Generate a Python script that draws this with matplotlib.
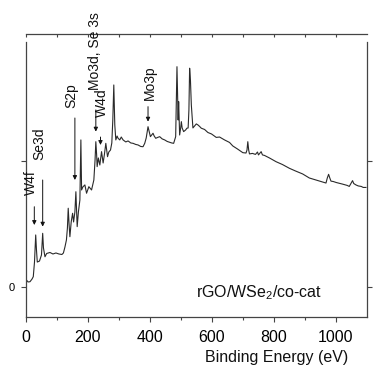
import numpy as np
import matplotlib
matplotlib.use('Agg')
import matplotlib.pyplot as plt

plt.rcParams['font.family'] = ['Liberation Sans', 'DejaVu Sans']
plt.rcParams['mathtext.default'] = 'regular'

# ==================================================
# Survey spectrum
# ==================================================
energy = [0, 7.4, 13.8, 20.3, 24.4, 28.3, 32.2, 34.7, 37.3, 44.4, 50.8, 54.7, 57.2, 62.1,
          67.5, 78.1, 87.8, 97.4, 107.1, 116.7, 121.5, 126.4, 131.2, 134.4, 137.0, 139.9,
          142.4, 146.6, 151.1, 154.3, 158.5, 161.7, 165.9, 169.8, 174.6, 177.8, 180.1,
          184.2, 190.7, 196.1, 203.5, 212.2, 216.4, 219.6, 223.5, 226.0, 228.6, 230.2,
          234.1, 238.9, 244.4, 249.5, 253.4, 258.2, 263.7, 267.8, 273.3, 277.5, 280.7,
          283.9, 287.1, 290.4, 294.5, 297.7, 303.2, 308.0, 313.8, 322.5, 329.9, 338.6,
          346.0, 354.7, 362.1, 370.7, 378.1, 383.6, 388.4, 394.2, 398.1, 401.9, 406.1,
          410.3, 414.1, 419.0, 425.4, 431.8, 439.9, 447.9, 455.9, 464.0, 470.4, 476.8,
          480.1, 483.3, 485.5, 487.5, 489.7, 491.3, 492.9, 494.9, 496.1, 499.4, 501.6,
          504.2, 509.0, 515.4, 519.6, 523.5, 526.0, 528.3, 530.9, 533.8, 536.3, 538.9,
          544.4, 549.8, 555.0, 560.5, 565.9, 576.5, 587.1, 599.0, 614.1, 624.8, 640.8,
          656.9, 667.5, 682.6, 699.7, 710.0, 713.2, 715.8, 718.6, 721.2, 730.9, 740.5,
          747.0, 750.2, 755.0, 758.8, 763.0, 769.5, 785.5, 807.1, 827.3, 849.8, 869.1,
          892.6, 914.1, 935.7, 952.7, 967.8, 972.0, 976.2, 980.1, 983.9, 991.3, 1001.0,
          1010.6, 1020.3, 1029.9, 1036.3, 1042.8, 1049.2, 1053.4, 1057.2, 1064.3, 1071.7,
          1081.4, 1087.8, 1096.5]
intensity = [0.063, 0.040, 0.042, 0.063, 0.082, 0.198, 0.413, 0.294, 0.198, 0.206, 0.254,
             0.426, 0.310, 0.240, 0.266, 0.274, 0.262, 0.270, 0.262, 0.258, 0.270, 0.317,
             0.373, 0.468, 0.625, 0.492, 0.399, 0.516, 0.585, 0.516, 0.595, 0.756, 0.479,
             0.595, 0.690, 1.167, 0.770, 0.794, 0.810, 0.744, 0.796, 0.770, 0.817, 0.849,
             1.008, 1.153, 1.048, 0.955, 1.024, 0.968, 1.074, 0.984, 1.048, 1.140, 1.034,
             1.071, 1.087, 1.143, 1.325, 1.603, 1.286, 1.167, 1.198, 1.180, 1.167, 1.190,
             1.167, 1.151, 1.159, 1.143, 1.140, 1.131, 1.127, 1.115, 1.113, 1.140, 1.183,
             1.272, 1.230, 1.193, 1.206, 1.220, 1.198, 1.180, 1.187, 1.193, 1.175, 1.167,
             1.155, 1.148, 1.143, 1.140, 1.167, 1.193, 1.484, 1.748, 1.524, 1.325, 1.471,
             1.286, 1.206, 1.262, 1.312, 1.262, 1.233, 1.246, 1.260, 1.262, 1.405, 1.736,
             1.643, 1.444, 1.357, 1.262, 1.278, 1.294, 1.286, 1.274, 1.260, 1.250, 1.226,
             1.214, 1.187, 1.190, 1.167, 1.147, 1.119, 1.095, 1.066, 1.063, 1.087, 1.153,
             1.087, 1.056, 1.060, 1.052, 1.071, 1.048, 1.063, 1.074, 1.048, 1.044, 1.024,
             0.994, 0.972, 0.942, 0.921, 0.897, 0.865, 0.849, 0.837, 0.825, 0.865, 0.894,
             0.865, 0.840, 0.837, 0.829, 0.823, 0.817, 0.810, 0.806, 0.798, 0.825, 0.844,
             0.821, 0.810, 0.802, 0.798, 0.790, 0.790]

# peak labels: text, arrow energy, arrow start, arrow tip, label energy, label bottom
peak_names = ['W4f', 'Se3d', 'S2p', 'Mo3d, Se 3s', 'W4d', 'Mo3p']
arrow_e = [27.7, 54.7, 158.5, 226.0, 241.0, 394.2]
arrow_from = [0.637, 0.849, 1.341, 1.405, 1.190, 1.431]
arrow_to = [0.492, 0.479, 0.849, 1.233, 1.127, 1.312]
label_e = [16.5, 44.4, 147.0, 223.0, 245.0, 400.0]
label_y = [0.73, 1.008, 1.421, 1.563, 1.349, 1.484]

# ==================================================
# Figure
# ==================================================
fig = plt.figure(figsize=(3.77, 3.69), dpi=100)
ax = fig.add_axes([0.0682, 0.1409, 0.9053, 0.7453])

ax.plot(energy, intensity, color='#2a2a2a', lw=0.8)

for name, ex, y0, y1, lx, ly in zip(peak_names, arrow_e, arrow_from, arrow_to, label_e, label_y):
    ax.annotate('', xy=(ex, y1), xytext=(ex, y0),
                arrowprops=dict(arrowstyle='-|>', lw=0.7, color='#111111',
                                mutation_scale=6, shrinkA=0, shrinkB=0))
    ax.text(lx, ly, name, rotation=90, ha='center', va='bottom', fontsize=10,
            color='#111111', clip_on=False)

ax.text(548, -0.079, 'rGO/WSe$_2$/co-cat', fontsize=11.5, color='#111111',
        ha='left', va='baseline')

ax.set_xlim(0, 1100)
ax.set_ylim(-0.238, 1.944)
ax.set_xticks([0, 200, 400, 600, 800, 1000])
ax.set_xticks(np.arange(100, 1100, 200), minor=True)
ax.set_yticks([0, 1])
ax.set_yticklabels(['0', ''])

for s in ax.spines.values():
    s.set_color('#444444')
    s.set_linewidth(0.9)
ax.spines['top'].set_position(('outward', 6))

ax.tick_params(axis='x', which='major', direction='out', length=3.6, width=0.8,
               color='#444444', labelsize=11.5, pad=6, top=True, labeltop=False)
ax.tick_params(axis='x', which='minor', direction='out', length=2.2, width=0.8,
               color='#444444', top=True)
ax.tick_params(axis='x', which='both', top=True)
ax.tick_params(axis='y', direction='out', length=3.6, width=0.8, color='#444444',
               labelsize=8, pad=4, right=True, labelright=True)

# top ticks point down into the plot
for t in ax.xaxis.get_major_ticks() + ax.xaxis.get_minor_ticks():
    t.tick2line.set_marker(3)
    t.tick2line.set_markersize(2.5)

fig.text(276.5 / 377, 1 - 362 / 369, 'Binding Energy (eV)', fontsize=11.5,
         color='#111111', ha='center', va='baseline')

fig.savefig('out.png', dpi=100)
